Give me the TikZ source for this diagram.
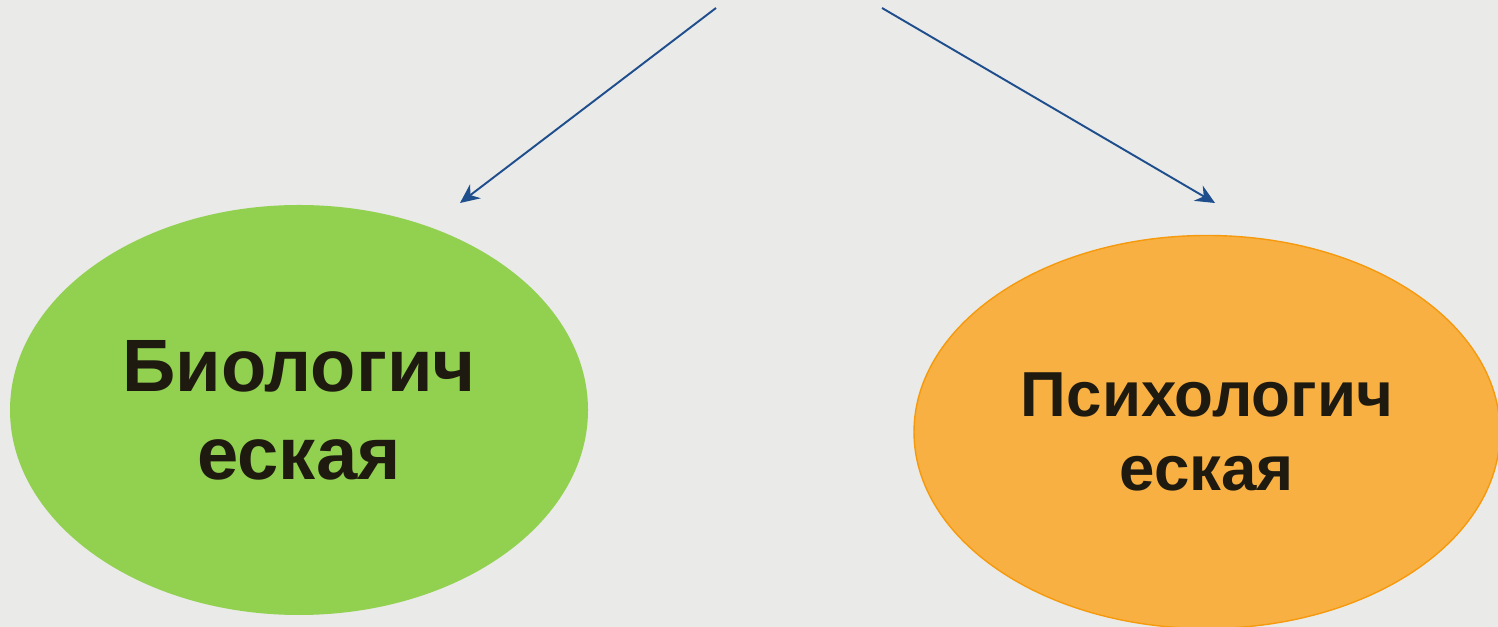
\documentclass[tikz,border=0pt]{standalone}
\usepackage{fontspec}
\setmainfont{Liberation Sans}
\usetikzlibrary{shapes.geometric,arrows.meta}
\definecolor{bgc}{HTML}{EAEAE9}
\definecolor{arrowc}{HTML}{1F4E8C}
\definecolor{greenc}{HTML}{92D050}
\definecolor{orangec}{HTML}{F9B043}
\definecolor{orangeb}{HTML}{F59A0C}
\definecolor{textc}{HTML}{1E1A10}
\tikzset{
  link/.style={draw=arrowc, line width=0.55pt, -{Stealth[length=5.5pt,width=5pt]}},
  blob/.style={ellipse, inner sep=0pt, align=center, text=textc, font=\bfseries}
}
\begin{document}
\begin{tikzpicture}[x=0.1mm,y=-0.1mm]
\useasboundingbox (0,0) rectangle (1498,627);
\fill[bgc] (0,0) rectangle (1498,627);
\node[blob, fill=greenc, minimum width=578*0.1mm, minimum height=410*0.1mm,
  font=\bfseries\fontsize{21.1pt}{25pt}\selectfont] (bio) at (299,410) {Биологич\\еская};
\node[blob, fill=orangec, draw=orangeb, line width=0.4pt, minimum width=586*0.1mm, minimum height=393*0.1mm,
  font=\bfseries\fontsize{18.1pt}{21.3pt}\selectfont] (psy) at (1207,432) {Психологич\\еская};
\coordinate (s1) at (716,8);
\coordinate (e1) at (460,203);
\coordinate (s2) at (882,8);
\coordinate (e2) at (1215,203);
\draw[link] (s1) -- (e1);
\draw[link] (s2) -- (e2);
\end{tikzpicture}
\end{document}
